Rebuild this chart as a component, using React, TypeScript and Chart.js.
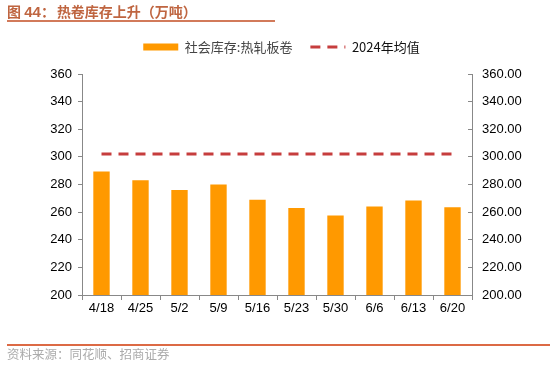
import React, { useEffect, useRef } from "react";
import { Chart, registerables } from "chart.js";

Chart.register(...registerables);

const categories = ["4/18", "4/25", "5/2", "5/9", "5/16", "5/23", "5/30", "6/6", "6/13", "6/20"];
const inventory = [289.5, 283, 276, 280, 269, 263, 257.5, 264, 268.5, 263.5];
const avg2024 = [302, 302, 302, 302, 302, 302, 302, 302, 302, 302];
const seriesNames = ["社会库存:热轧板卷", "2024年均值"];
const yMin = 200;
const yMax = 360;
const yStep = 20;

const NUM_FONT = '"Liberation Sans", Arial, "Noto Sans CJK SC", sans-serif';

export default function App() {
  const canvasRef = useRef<HTMLCanvasElement | null>(null);

  useEffect(() => {
    document.body.style.margin = "0";
    const canvas = canvasRef.current;
    if (!canvas) return;

    const legendSpacer = {
      id: "legendSpacer",
      beforeInit(chart: any) {
        const orig = chart.legend.fit;
        chart.legend.fit = function fit() {
          orig.bind(chart.legend)();
          this.height += 10.5;
        };
      },
    };

    const chart = new Chart(canvas, {
      type: "bar",
      data: {
        labels: categories,
        datasets: [
          {
            type: "bar",
            label: seriesNames[0],
            data: inventory,
            backgroundColor: "#FF9900",
            borderWidth: 0,
            barPercentage: 0.42,
            categoryPercentage: 1,
            yAxisID: "y",
            order: 2,
          },
          {
            type: "line",
            label: seriesNames[1],
            data: avg2024,
            borderColor: "#C63D3D",
            backgroundColor: "#C63D3D",
            borderWidth: 3,
            borderDash: [10, 7],
            pointRadius: 0,
            fill: false,
            yAxisID: "y",
            order: 1,
          } as any,
        ],
      },
      options: {
        animation: false,
        responsive: false,
        maintainAspectRatio: false,
        layout: { padding: { top: 22.5, left: 13, right: 0, bottom: 0 } },
        plugins: {
          tooltip: { enabled: false },
          legend: {
            display: true,
            position: "top",
            labels: {
              usePointStyle: true,
              pointStyleWidth: 35,
              boxHeight: 7,
              padding: 18,
              color: "#333",
              font: { size: 13, family: '"Noto Sans CJK SC", "Liberation Sans", sans-serif' },
              generateLabels: () => [
                {
                  text: seriesNames[0],
                  fillStyle: "#FF9900",
                  strokeStyle: "#FF9900",
                  lineWidth: 0,
                  pointStyle: "rect",
                  datasetIndex: 0,
                  hidden: false,
                  fontColor: "#444",
                } as any,
                {
                  text: seriesNames[1],
                  fillStyle: "#C63D3D",
                  strokeStyle: "#C63D3D",
                  lineWidth: 3,
                  lineDash: [10, 7],
                  pointStyle: "line",
                  datasetIndex: 1,
                  hidden: false,
                  fontColor: "#111",
                } as any,
              ],
            },
          },
        },
        scales: {
          x: {
            type: "category",
            offset: true,
            grid: {
              offset: true,
              drawOnChartArea: false,
              drawTicks: true,
              tickLength: 5,
              color: "#888",
            },
            border: { display: true, color: "#888", width: 1 },
            ticks: {
              color: "#000",
              padding: 1,
              maxRotation: 0,
              autoSkip: false,
              font: { size: 13, family: NUM_FONT },
            },
            afterFit(scale: any) {
              scale.height = 378 - 295;
            },
          },
          y: {
            type: "linear",
            position: "left",
            min: yMin,
            max: yMax,
            grid: {
              drawOnChartArea: false,
              drawTicks: true,
              tickLength: 4,
              color: "#888",
            },
            border: { display: true, color: "#888", width: 1 },
            ticks: {
              stepSize: yStep,
              color: "#000",
              padding: 6,
              font: { size: 13, family: NUM_FONT },
            },
            afterFit(scale: any) {
              scale.width = 82 - 13;
            },
          },
          y1: {
            type: "linear",
            position: "right",
            min: yMin,
            max: yMax,
            grid: {
              drawOnChartArea: false,
              drawTicks: true,
              tickLength: -4,
              color: "#888",
            },
            border: { display: true, color: "#888", width: 1 },
            ticks: {
              stepSize: yStep,
              color: "#000",
              padding: 14,
              font: { size: 13, family: NUM_FONT },
              callback: (v: any) => Number(v).toFixed(2),
            },
            afterFit(scale: any) {
              scale.width = 550 - 472;
            },
          },
        },
      },
      plugins: [legendSpacer],
    });

    return () => chart.destroy();
  }, []);

  return (
    <div style={{ position: "relative", width: 550, height: 378, background: "#fff", overflow: "hidden" }}>
      <canvas ref={canvasRef} width={550} height={378} style={{ position: "absolute", left: 0, top: 0, width: 550, height: 378 }} />
      <div
        style={{
          position: "absolute",
          left: 7,
          top: 2,
          fontFamily: '"Noto Sans CJK SC", sans-serif',
          fontWeight: 700,
          fontSize: 14,
          lineHeight: "18px",
          color: "#BF6540",
          whiteSpace: "nowrap",
        }}
      >
        图 <span style={{ fontFamily: '"Liberation Sans", Arial, sans-serif', fontSize: 15 }}>44</span>：
        <span style={{ marginLeft: 2 }}>热卷库存上升（万吨）</span>
      </div>
      <div style={{ position: "absolute", left: 7, top: 20, width: 268, height: 2, background: "#D27A5A" }} />
      <div style={{ position: "absolute", left: 7, top: 344, width: 543, height: 1.5, background: "#DC6A45" }} />
      <div
        style={{
          position: "absolute",
          left: 7,
          top: 346,
          fontFamily: '"Noto Sans CJK SC", sans-serif',
          fontSize: 12.5,
          lineHeight: "16px",
          color: "#ABABAB",
          whiteSpace: "nowrap",
        }}
      >
        资料来源：同花顺、招商证券
      </div>
    </div>
  );
}
